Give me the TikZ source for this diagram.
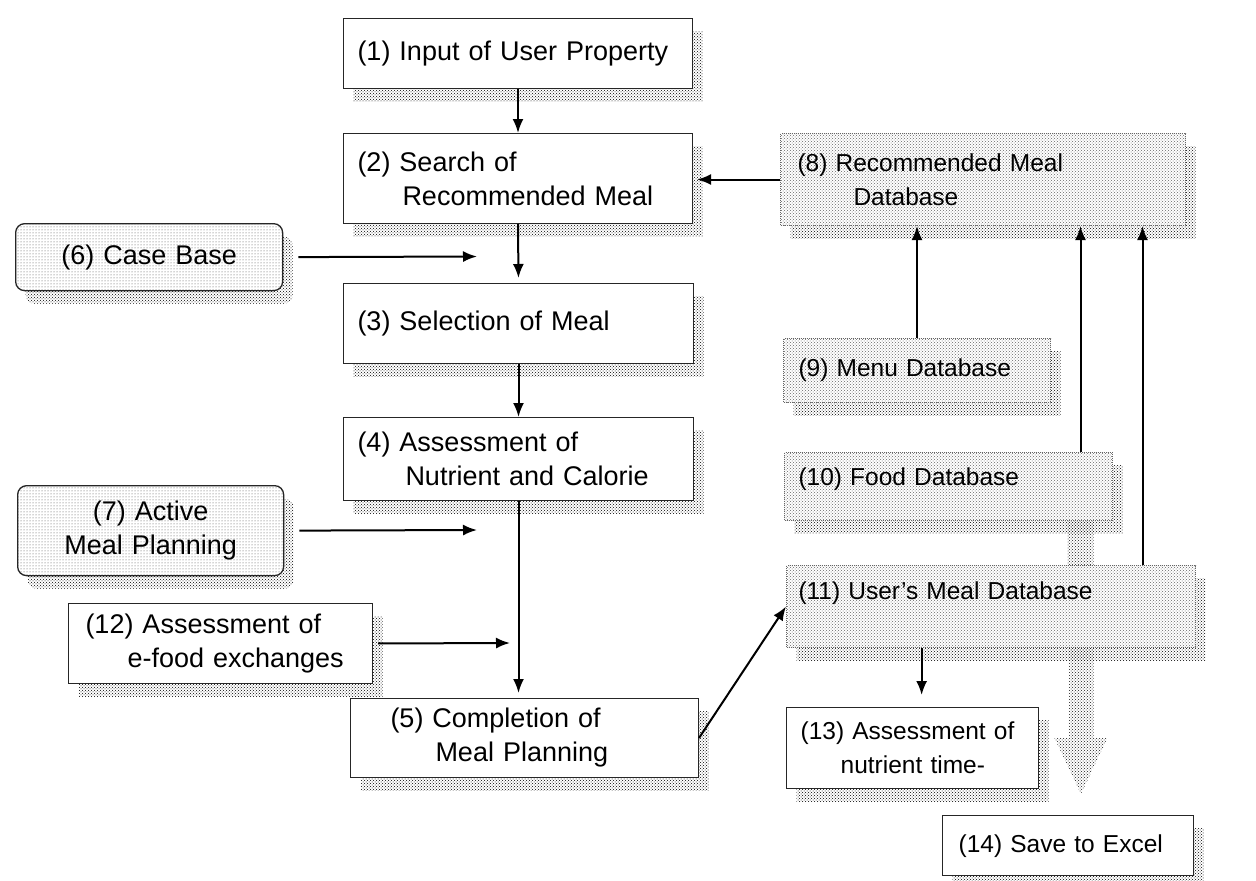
\documentclass[tikz,border=0pt]{standalone}
\usepackage{fontspec}
\setmainfont{Liberation Sans}
\usetikzlibrary{arrows.meta, shadows, patterns}

\newcommand\procfont{\fontsize{27}{34}\selectfont}
\newcommand\dbfont{\fontsize{24.5}{34}\selectfont}

\tikzset{
  halftone/.style={pattern=crosshatch dots, pattern color=black!#1},
  procbox/.style={draw=black!85, line width=1pt, fill=white, anchor=north west,
    align=left, inner xsep=14pt, inner ysep=3pt, font=\procfont,
    drop shadow={shadow xshift=10pt, shadow yshift=-13pt, opacity=1, draw=none,
      halftone=100}},
  casebox/.style={procbox, rounded corners=9pt, align=center, line width=1.3pt,
    preaction={fill=white}, pattern=dots, pattern color=black!70},
  dbbox/.style={procbox, font=\dbfont, draw=black!60, densely dotted, line width=1pt,
    preaction={fill=white}, halftone=60},
  flow/.style={line width=2pt, -{Latex[length=14pt,width=11pt]}},
  bigarrow/.style={halftone=90},
}

\begin{document}
\begin{tikzpicture}[x=1pt,y=-1pt]
  \useasboundingbox (0,0) rectangle (1256,881);

  %Process
  \node[procbox, text width=321pt, minimum height=70pt] (n1) at (343,18)
    {(1) Input of User Property};
  \node[procbox, text width=321pt, minimum height=90pt] (n2) at (343,133)
    {(2) Search of\\\hspace*{45pt}Recommended Meal};
  \node[procbox, text width=322pt, minimum height=80pt] (n3) at (343,283)
    {(3) Selection of Meal};
  \node[procbox, text width=322pt, minimum height=83pt] (n4) at (343,417)
    {(4) Assessment of\\\hspace*{48pt}Nutrient and Calorie};
  \node[procbox, inner xsep=40pt, text width=268pt, minimum height=79pt] (n5) at (350,698)
    {(5) Completion of\\\hspace*{45pt}Meal Planning};

  %Inputs on the left
  \node[casebox, text width=239pt, minimum height=67pt] (n6) at (15,223)
    {(6) Case Base};
  \node[casebox, text width=238pt, minimum height=90pt] (n7) at (17,485)
    {(7) Active\\Meal Planning};
  \node[procbox, inner xsep=17pt, text width=270pt, minimum height=80pt] (n12) at (68,603)
    {(12) Assessment of\\\hspace*{42pt}e-food exchanges};

  %Databases
  \node[dbbox, inner xsep=17pt, text width=371pt, minimum height=92pt] (n8) at (780,133)
    {(8) Recommended Meal\\\hspace*{56pt}Database};
  \node[dbbox, inner xsep=15pt, text width=237pt, minimum height=64pt] (n9) at (783,338)
    {(9) Menu Database};
  \node[dbbox, text width=300pt, minimum height=68pt, text depth=20pt] (n10) at (784,452)
    {(10) Food Database};
  \node[dbbox, inner xsep=12pt, text width=385pt, minimum height=82pt, text depth=32pt] (n11) at (786,565)
    {(11) User's Meal Database};

  %Outputs
  \node[procbox, font=\dbfont, line width=1.3pt, text width=224pt, minimum height=81pt] (n13) at (786,707)
    {(13) Assessment of\\\hspace*{40pt}nutrient time-};
  \node[procbox, font=\dbfont, line width=1.3pt, inner xsep=16pt, text width=219pt, minimum height=60pt] (n14) at (942,815)
    {(14) Save to Excel};

  \coordinate (c6) at (477,256.5);
  \coordinate (c7) at (477,530);
  \coordinate (c12) at (510,643);

  %Main flow
  \draw[flow] (n1.south) -- (n2.north);
  \draw[flow, shorten >=5pt] (n2.south) -- (n3.north);
  \draw[flow] (n3.south) -- (n4.north);
  \draw[flow, shorten >=5pt] (n4.south) -- (n4.south |- n5.north);
  \draw[flow, shorten <=15pt] (n6.east) -- (c6);
  \draw[flow, shorten <=15pt] (n7.east) -- (c7);
  \draw[flow, shorten <=5pt] (n12.east) -- (c12);

  %Database links
  \draw[flow, shorten >=4pt] (n8.west) -- (n8.west -| n2.east);
  \draw[flow] (n9.north) -- (n9.north |- n8.south);
  \draw[flow] ([xshift=132pt]n10.north) -- ([xshift=132pt]n10.north |- n8.south);
  \draw[flow] ([xshift=151.5pt]n11.north) -- ([xshift=151.5pt]n11.north |- n8.south);
  \draw[flow] (n5.east) -- (n11.west);
  \draw[flow, shorten >=12pt] ([xshift=9pt]n13.north |- n11.south) -- ([xshift=9pt]n13.north);

  %Gray band and save arrow
  \fill[bigarrow] ([xshift=119pt]n10.south) rectangle ([xshift=145pt]n10.south |- n11.north);
  \fill[bigarrow] ([xshift=77.5pt]n11.south) -- ++(25,0) -- ++(0,90) -- ++(14,0)
    -- ++(-26.5,56) -- ++(-26.5,-56) -- ++(14,0) -- cycle;
\end{tikzpicture}
\end{document}
